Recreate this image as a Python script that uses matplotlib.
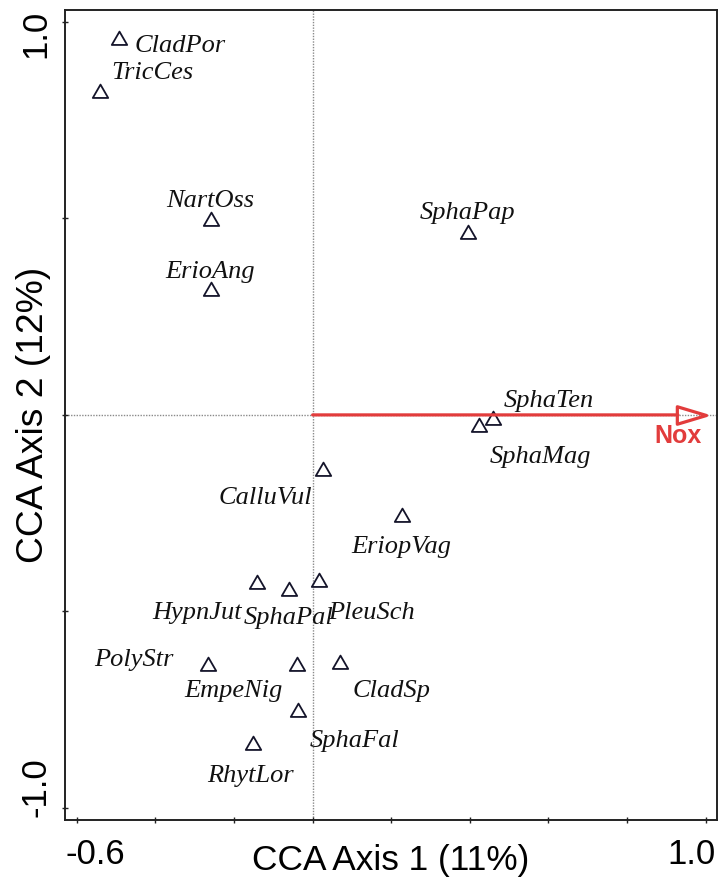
import numpy as np
import matplotlib.pyplot as plt
from matplotlib.path import Path
from matplotlib import transforms

# species scores (CCA axis 1 / axis 2)
species = ['CladPor', 'TricCes', 'NartOss', 'ErioAng', 'SphaPap', 'SphaTen',
           'SphaMag', 'CalluVul', 'EriopVag', 'HypnJut', 'SphaPal', 'PleuSch',
           'PolyStr', 'EmpeNig', 'CladSp', 'SphaFal', 'RhytLor']
cca1 = [-0.492, -0.541, -0.258, -0.258, 0.396, 0.459,
        0.422, 0.026, 0.227, -0.142, -0.059, 0.015,
        -0.265, -0.040, 0.070, -0.036, -0.152]
cca2 = [0.953, 0.820, 0.493, 0.315, 0.460, -0.013,
        -0.030, -0.143, -0.259, -0.429, -0.447, -0.425,
        -0.639, -0.639, -0.634, -0.755, -0.840]

# environmental vector
env_names = ['Nox']
env1 = [1.0]
env2 = [0.0]

xticks = [-0.6, -0.4, -0.2, 0.0, 0.2, 0.4, 0.6, 0.8, 1.0]
xticklabels = ['-0.6', '', '', '', '', '', '', '', '1.0']
yticks = [-1.0, -0.5, 0.0, 0.5, 1.0]
yticklabels = ['-1.0', '', '', '', '1.0']

# label placement (pixels from point)
label_offsets = [(61, -12), (52, 14), (-1, 14), (-1, 13), (-1, 15), (56, 13),
                 (62, -36), (-58, -33), (-1, -36), (-60, -35), (-1, -33), (53, -37),
                 (-75, 0), (-63, -31), (51, -33), (56, -35), (-2, -37)]

red = '#e23c3c'
sans = 'Liberation Sans'

fig = plt.figure(figsize=(7.18, 8.77), dpi=100)
ax = fig.add_axes([65 / 718, 1 - 820 / 877, 651.7 / 718, 810 / 877])
ax.set_xlim(-0.630, 1.028)
ax.set_ylim(-1.0305, 1.030)

ax.axhline(0, color='#8a8a8a', ls=(0, (1, 1)), lw=1.0, zorder=0)
ax.axvline(0, color='#8a8a8a', ls=(0, (1, 1)), lw=1.0, zorder=0)

# open triangles centred on centroid like R pch=2
tri = Path([(-0.5, -0.2887), (0.5, -0.2887), (0, 0.5774), (-0.5, -0.2887)],
           [Path.MOVETO, Path.LINETO, Path.LINETO, Path.CLOSEPOLY])
ax.plot(cca1, cca2, ls='none', marker=tri, ms=12.8, mfc='none',
        mec='#14142a', mew=1.3, zorder=3)

for name, x, y, (dx, dy) in zip(species, cca1, cca2, label_offsets):
    ax.annotate(name, (x, y), xytext=(dx, dy), textcoords='offset pixels',
                ha='center', va='baseline', fontsize=19,
                family='Liberation Serif', style='italic', color='#111111')

# arrow: shaft + open head
head = Path([(0, 0), (-1, 0.3), (-1, -0.3), (0, 0)],
            [Path.MOVETO, Path.LINETO, Path.LINETO, Path.CLOSEPOLY])
for name, ex, ey in zip(env_names, env1, env2):
    ax.annotate('', xy=(ex, ey), xytext=(0, 0),
                arrowprops=dict(arrowstyle='-', color=red, lw=2.3,
                                shrinkA=0, shrinkB=20))
    ax.plot(ex, ey, ls='none', marker=head, ms=42, mfc='none', mec=red, mew=2.3)
    ax.annotate(name, (ex, ey), xytext=(-28, -28), textcoords='offset pixels',
                ha='center', va='baseline', fontsize=18, fontweight='bold',
                family=sans, color=red)

ax.set_xticks(xticks)
ax.set_xticklabels(xticklabels, fontsize=25, family=sans)
ax.set_yticks(yticks)
ax.set_yticklabels(yticklabels, fontsize=25, family=sans, rotation=90, va='center')
ax.tick_params(axis='both', direction='inout', length=5, width=1.0, color='#222222')
ax.tick_params(axis='x', pad=10.8)
ax.tick_params(axis='y', pad=6.8)

# nudge end labels like the original
xshift = {'-0.6': 18.8, '1.0': -14.4}
for lab in ax.get_xticklabels():
    t = lab.get_text()
    if t in xshift:
        lab.set_transform(lab.get_transform() + transforms.ScaledTranslation(xshift[t] / 100, 0, fig.dpi_scale_trans))
yshift = {'1.0': -12.5, '-1.0': 20.5}
for lab in ax.get_yticklabels():
    t = lab.get_text()
    if t in yshift:
        lab.set_transform(lab.get_transform() + transforms.ScaledTranslation(0, yshift[t] / 100, fig.dpi_scale_trans))

ax.set_xlabel('CCA Axis 1 (11%)', fontsize=25.4, family=sans)
ax.set_ylabel('CCA Axis 2 (12%)', fontsize=26.8, family=sans)
ax.xaxis.set_label_coords(0.5, -0.0296)
ax.yaxis.set_label_coords(-0.0218, 0.5)

for sp in ax.spines.values():
    sp.set_linewidth(1.4)
    sp.set_color('#222222')

fig.savefig('out.png', dpi=100)
